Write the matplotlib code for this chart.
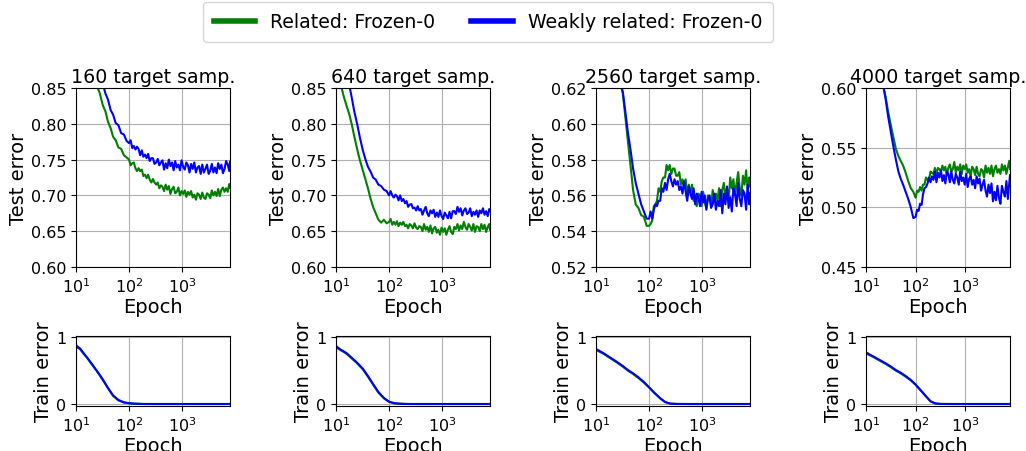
import numpy as np
import matplotlib
matplotlib.use("Agg")
import matplotlib.pyplot as plt

# epochs at which the test curves were read (log spaced, denser past 100)
epochs = [10, 11, 12, 13, 14, 16, 18, 20, 22, 25, 28, 32, 36, 40, 45, 50, 56, 63, 71, 80, 90,
          100, 107, 115, 123, 132, 141, 151, 162, 174, 186, 200, 214, 229, 245, 263, 282, 302, 324, 347, 372,
          398, 427, 457, 490, 525, 562, 603, 646, 692, 741, 794, 851, 912, 977, 1047, 1122, 1202, 1288, 1380, 1479,
          1585, 1698, 1820, 1950, 2089, 2239, 2399, 2570, 2754, 2951, 3162, 3388, 3631, 3890, 4169, 4467, 4786, 5129,
          5495, 5888, 6310, 6761, 7244, 7762, 8000]

titles = ["160 target samp.", "640 target samp.", "2560 target samp.", "4000 target samp."]

# test error, related (green)
test_rel_160 = [0.97, 0.95, 0.94, 0.93, 0.92, 0.90, 0.885, 0.872, 0.862, 0.852, 0.843, 0.826, 0.817, 0.803, 0.794, 0.782, 0.777, 0.767, 0.765, 0.756, 0.753,
                0.750, 0.742, 0.745, 0.746, 0.738, 0.734, 0.738, 0.734, 0.736, 0.727, 0.729, 0.724, 0.729, 0.722, 0.718, 0.723, 0.718, 0.715, 0.718, 0.710,
                0.714, 0.712, 0.706, 0.715, 0.708, 0.713, 0.702, 0.709, 0.712, 0.703, 0.705, 0.711, 0.700, 0.706, 0.702, 0.707, 0.698, 0.705, 0.701, 0.706,
                0.697, 0.701, 0.694, 0.703, 0.701, 0.695, 0.704, 0.697, 0.695, 0.703, 0.701, 0.696, 0.707, 0.700, 0.705, 0.699, 0.709, 0.699,
                0.708, 0.711, 0.705, 0.710, 0.705, 0.716, 0.711]
test_rel_640 = [0.90, 0.88, 0.862, 0.848, 0.838, 0.824, 0.812, 0.798, 0.783, 0.765, 0.750, 0.735, 0.722, 0.710, 0.695, 0.684, 0.675, 0.666, 0.662, 0.666, 0.661,
                0.663, 0.667, 0.659, 0.663, 0.659, 0.664, 0.657, 0.662, 0.659, 0.663, 0.657, 0.659, 0.654, 0.660, 0.658, 0.654, 0.661, 0.655, 0.653, 0.657,
                0.656, 0.650, 0.660, 0.652, 0.656, 0.649, 0.658, 0.647, 0.654, 0.656, 0.648, 0.652, 0.645, 0.655, 0.649, 0.654, 0.645, 0.652, 0.657, 0.649,
                0.646, 0.656, 0.653, 0.660, 0.651, 0.658, 0.653, 0.663, 0.656, 0.652, 0.660, 0.656, 0.651, 0.660, 0.649, 0.657, 0.656, 0.650,
                0.660, 0.653, 0.659, 0.649, 0.656, 0.660, 0.652]
test_rel_2560 = [0.70, 0.69, 0.68, 0.672, 0.665, 0.655, 0.646, 0.640, 0.634, 0.628, 0.624, 0.617, 0.603, 0.590, 0.576, 0.563, 0.555, 0.553, 0.549, 0.548, 0.543,
                 0.543, 0.544, 0.546, 0.554, 0.555, 0.557, 0.564, 0.562, 0.568, 0.570, 0.570, 0.577, 0.574, 0.577, 0.572, 0.575, 0.575, 0.571, 0.571, 0.573,
                 0.566, 0.569, 0.564, 0.569, 0.560, 0.566, 0.561, 0.566, 0.557, 0.560, 0.554, 0.561, 0.560, 0.554, 0.562, 0.556, 0.553, 0.560, 0.559, 0.554,
                 0.563, 0.557, 0.561, 0.557, 0.564, 0.554, 0.563, 0.567, 0.559, 0.564, 0.557, 0.570, 0.564, 0.569, 0.560, 0.567, 0.573, 0.564,
                 0.560, 0.571, 0.566, 0.574, 0.563, 0.570, 0.565]
test_rel_4000 = [0.70, 0.685, 0.672, 0.660, 0.650, 0.635, 0.622, 0.611, 0.602, 0.592, 0.580, 0.568, 0.558, 0.549, 0.543, 0.539, 0.535, 0.529, 0.522, 0.516, 0.513,
                 0.508, 0.514, 0.513, 0.517, 0.514, 0.519, 0.519, 0.525, 0.523, 0.523, 0.530, 0.529, 0.528, 0.533, 0.528, 0.533, 0.532, 0.530, 0.535, 0.531,
                 0.534, 0.527, 0.533, 0.536, 0.530, 0.532, 0.538, 0.529, 0.534, 0.531, 0.536, 0.528, 0.535, 0.532, 0.536, 0.529, 0.532, 0.526, 0.534, 0.532,
                 0.527, 0.534, 0.528, 0.526, 0.532, 0.531, 0.525, 0.535, 0.529, 0.533, 0.528, 0.535, 0.526, 0.532, 0.535, 0.529, 0.532, 0.528,
                 0.536, 0.531, 0.535, 0.528, 0.534, 0.539, 0.532]

# test error, weakly related (blue)
test_weak_160 = [1.0, 0.99, 0.98, 0.97, 0.96, 0.94, 0.925, 0.91, 0.897, 0.882, 0.868, 0.856, 0.842, 0.834, 0.819, 0.813, 0.801, 0.798, 0.787, 0.785, 0.776,
                 0.773, 0.777, 0.766, 0.769, 0.764, 0.768, 0.765, 0.756, 0.763, 0.754, 0.757, 0.752, 0.758, 0.748, 0.752, 0.752, 0.744, 0.746, 0.751, 0.742,
                 0.746, 0.749, 0.736, 0.745, 0.738, 0.750, 0.741, 0.746, 0.735, 0.748, 0.739, 0.743, 0.735, 0.749, 0.740, 0.736, 0.746, 0.742, 0.732, 0.744,
                 0.737, 0.746, 0.732, 0.739, 0.741, 0.730, 0.743, 0.732, 0.737, 0.743, 0.730, 0.734, 0.744, 0.732, 0.739, 0.731, 0.745, 0.737,
                 0.743, 0.731, 0.737, 0.748, 0.743, 0.734, 0.747]
test_weak_640 = [0.96, 0.945, 0.93, 0.915, 0.90, 0.875, 0.852, 0.835, 0.818, 0.800, 0.782, 0.763, 0.750, 0.740, 0.733, 0.725, 0.722, 0.715, 0.713, 0.708, 0.706,
                 0.700, 0.706, 0.700, 0.697, 0.701, 0.699, 0.693, 0.700, 0.692, 0.695, 0.689, 0.692, 0.684, 0.687, 0.688, 0.682, 0.683, 0.679, 0.685, 0.679,
                 0.681, 0.673, 0.679, 0.684, 0.675, 0.671, 0.679, 0.675, 0.680, 0.670, 0.676, 0.670, 0.679, 0.671, 0.667, 0.676, 0.672, 0.668, 0.677, 0.668,
                 0.678, 0.678, 0.674, 0.684, 0.677, 0.682, 0.672, 0.679, 0.682, 0.674, 0.676, 0.682, 0.671, 0.677, 0.673, 0.679, 0.670, 0.679,
                 0.675, 0.682, 0.673, 0.678, 0.671, 0.681, 0.679]
test_weak_2560 = [0.70, 0.69, 0.68, 0.672, 0.665, 0.655, 0.646, 0.640, 0.634, 0.628, 0.624, 0.618, 0.606, 0.595, 0.585, 0.575, 0.567, 0.561, 0.555, 0.551, 0.547,
                  0.547, 0.551, 0.547, 0.552, 0.555, 0.554, 0.557, 0.557, 0.564, 0.562, 0.567, 0.563, 0.569, 0.572, 0.568, 0.565, 0.569, 0.566, 0.568, 0.563,
                  0.565, 0.561, 0.568, 0.562, 0.557, 0.565, 0.561, 0.558, 0.564, 0.555, 0.561, 0.559, 0.554, 0.562, 0.556, 0.560, 0.552, 0.558, 0.560, 0.553,
                  0.555, 0.561, 0.552, 0.557, 0.554, 0.563, 0.550, 0.561, 0.555, 0.565, 0.553, 0.559, 0.551, 0.564, 0.561, 0.554, 0.567, 0.558,
                  0.554, 0.563, 0.561, 0.552, 0.566, 0.555, 0.561]
test_weak_4000 = [0.70, 0.685, 0.672, 0.660, 0.650, 0.635, 0.622, 0.612, 0.604, 0.590, 0.576, 0.562, 0.550, 0.540, 0.530, 0.524, 0.519, 0.513, 0.507, 0.500, 0.491,
                  0.492, 0.498, 0.497, 0.503, 0.502, 0.511, 0.516, 0.517, 0.520, 0.525, 0.521, 0.526, 0.523, 0.530, 0.521, 0.529, 0.525, 0.531, 0.522, 0.527,
                  0.520, 0.530, 0.528, 0.521, 0.530, 0.523, 0.520, 0.528, 0.525, 0.519, 0.530, 0.522, 0.525, 0.519, 0.528, 0.517, 0.524, 0.526, 0.519, 0.523,
                  0.516, 0.526, 0.520, 0.524, 0.514, 0.519, 0.523, 0.514, 0.509, 0.519, 0.512, 0.520, 0.505, 0.513, 0.506, 0.518, 0.508, 0.503,
                  0.518, 0.513, 0.509, 0.522, 0.507, 0.521, 0.527]

# train error
train_epochs = [10, 12, 14, 16, 20, 25, 32, 40, 50, 63, 80, 100, 125, 160, 200, 250, 320, 500, 1000, 8000]
train_rel_160 = [0.86, 0.82, 0.75, 0.70, 0.59, 0.49, 0.36, 0.24, 0.12, 0.055, 0.022, 0.010, 0.004, 0.002, 0, 0, 0, 0, 0, 0]
train_weak_160 = [0.88, 0.83, 0.76, 0.70, 0.60, 0.49, 0.37, 0.24, 0.13, 0.06, 0.025, 0.012, 0.005, 0.002, 0, 0, 0, 0, 0, 0]
train_rel_640 = [0.85, 0.81, 0.78, 0.75, 0.68, 0.61, 0.52, 0.41, 0.29, 0.17, 0.085, 0.032, 0.011, 0.004, 0.001, 0, 0, 0, 0, 0]
train_weak_640 = [0.87, 0.82, 0.79, 0.76, 0.69, 0.62, 0.53, 0.42, 0.30, 0.18, 0.09, 0.035, 0.012, 0.004, 0.001, 0, 0, 0, 0, 0]
train_rel_2560 = [0.81, 0.78, 0.75, 0.72, 0.67, 0.62, 0.56, 0.50, 0.45, 0.39, 0.32, 0.25, 0.17, 0.09, 0.03, 0.006, 0.001, 0, 0, 0]
train_weak_2560 = [0.825, 0.79, 0.76, 0.73, 0.68, 0.63, 0.57, 0.51, 0.46, 0.40, 0.33, 0.25, 0.17, 0.09, 0.03, 0.006, 0.001, 0, 0, 0]
train_rel_4000 = [0.76, 0.73, 0.705, 0.68, 0.64, 0.60, 0.55, 0.50, 0.46, 0.41, 0.355, 0.29, 0.21, 0.12, 0.04, 0.008, 0.001, 0, 0, 0]
train_weak_4000 = [0.775, 0.74, 0.715, 0.69, 0.65, 0.61, 0.56, 0.51, 0.47, 0.42, 0.36, 0.29, 0.21, 0.12, 0.04, 0.008, 0.001, 0, 0, 0]

test_rel = [test_rel_160, test_rel_640, test_rel_2560, test_rel_4000]
test_weak = [test_weak_160, test_weak_640, test_weak_2560, test_weak_4000]
train_rel = [train_rel_160, train_rel_640, train_rel_2560, train_rel_4000]
train_weak = [train_weak_160, train_weak_640, train_weak_2560, train_weak_4000]

ylims = [(0.60, 0.85), (0.60, 0.85), (0.52, 0.62), (0.45, 0.60)]
yticks = [np.arange(0.60, 0.851, 0.05), np.arange(0.60, 0.851, 0.05),
          np.arange(0.52, 0.621, 0.02), np.arange(0.45, 0.601, 0.05)]

W, H = 1026, 452
fig = plt.figure(figsize=(W / 100, H / 100), dpi=100)

lefts = [76, 336, 596, 866]
widths = [154, 154, 154, 144]

lab_fs = 14
tick_fs = 11.5

for i in range(4):
    ax = fig.add_axes([lefts[i] / W, (H - 268) / H, widths[i] / W, 179 / H])
    l1, = ax.plot(epochs, test_rel[i], color='green', lw=1.5, label='Related: Frozen-0')
    l2, = ax.plot(epochs, test_weak[i], color='blue', lw=1.5, label='Weakly related: Frozen-0')
    ax.set_xscale('log')
    ax.set_xlim(10, 8000)
    ax.set_ylim(*ylims[i])
    ax.set_yticks(yticks[i])
    ax.set_xticks([10, 100, 1000])
    ax.minorticks_off()
    ax.grid(True, color='#b0b0b0', lw=0.8)
    ax.set_title(titles[i], fontsize=13.7, pad=4)
    ax.set_xlabel('Epoch', fontsize=lab_fs, labelpad=1)
    ax.set_ylabel('Test error', fontsize=lab_fs, labelpad=2)
    ax.tick_params(labelsize=tick_fs)

    bx = fig.add_axes([lefts[i] / W, (H - 407) / H, widths[i] / W, 70 / H])
    bx.plot(train_epochs, train_rel[i], color='green', lw=1.5)
    bx.plot(train_epochs, train_weak[i], color='blue', lw=1.5)
    bx.set_xscale('log')
    bx.set_xlim(10, 8000)
    bx.set_ylim(-0.03, 1.02)
    bx.set_yticks([0, 1])
    bx.set_xticks([10, 100, 1000])
    bx.minorticks_off()
    bx.grid(True, color='#b0b0b0', lw=0.8)
    bx.set_xlabel('Epoch', fontsize=lab_fs, labelpad=1)
    bx.set_ylabel('Train error', fontsize=lab_fs, labelpad=2)
    bx.tick_params(labelsize=tick_fs)

leg = fig.legend(handles=[l1, l2], loc='upper center', ncol=2, fontsize=13.6,
                 bbox_to_anchor=(488 / W, 1 - 3 / H), borderaxespad=0, borderpad=0.55,
                 handlelength=2.2, columnspacing=1.9)
for ln in leg.get_lines():
    ln.set_linewidth(4)

fig.savefig('out.png', dpi=100)
